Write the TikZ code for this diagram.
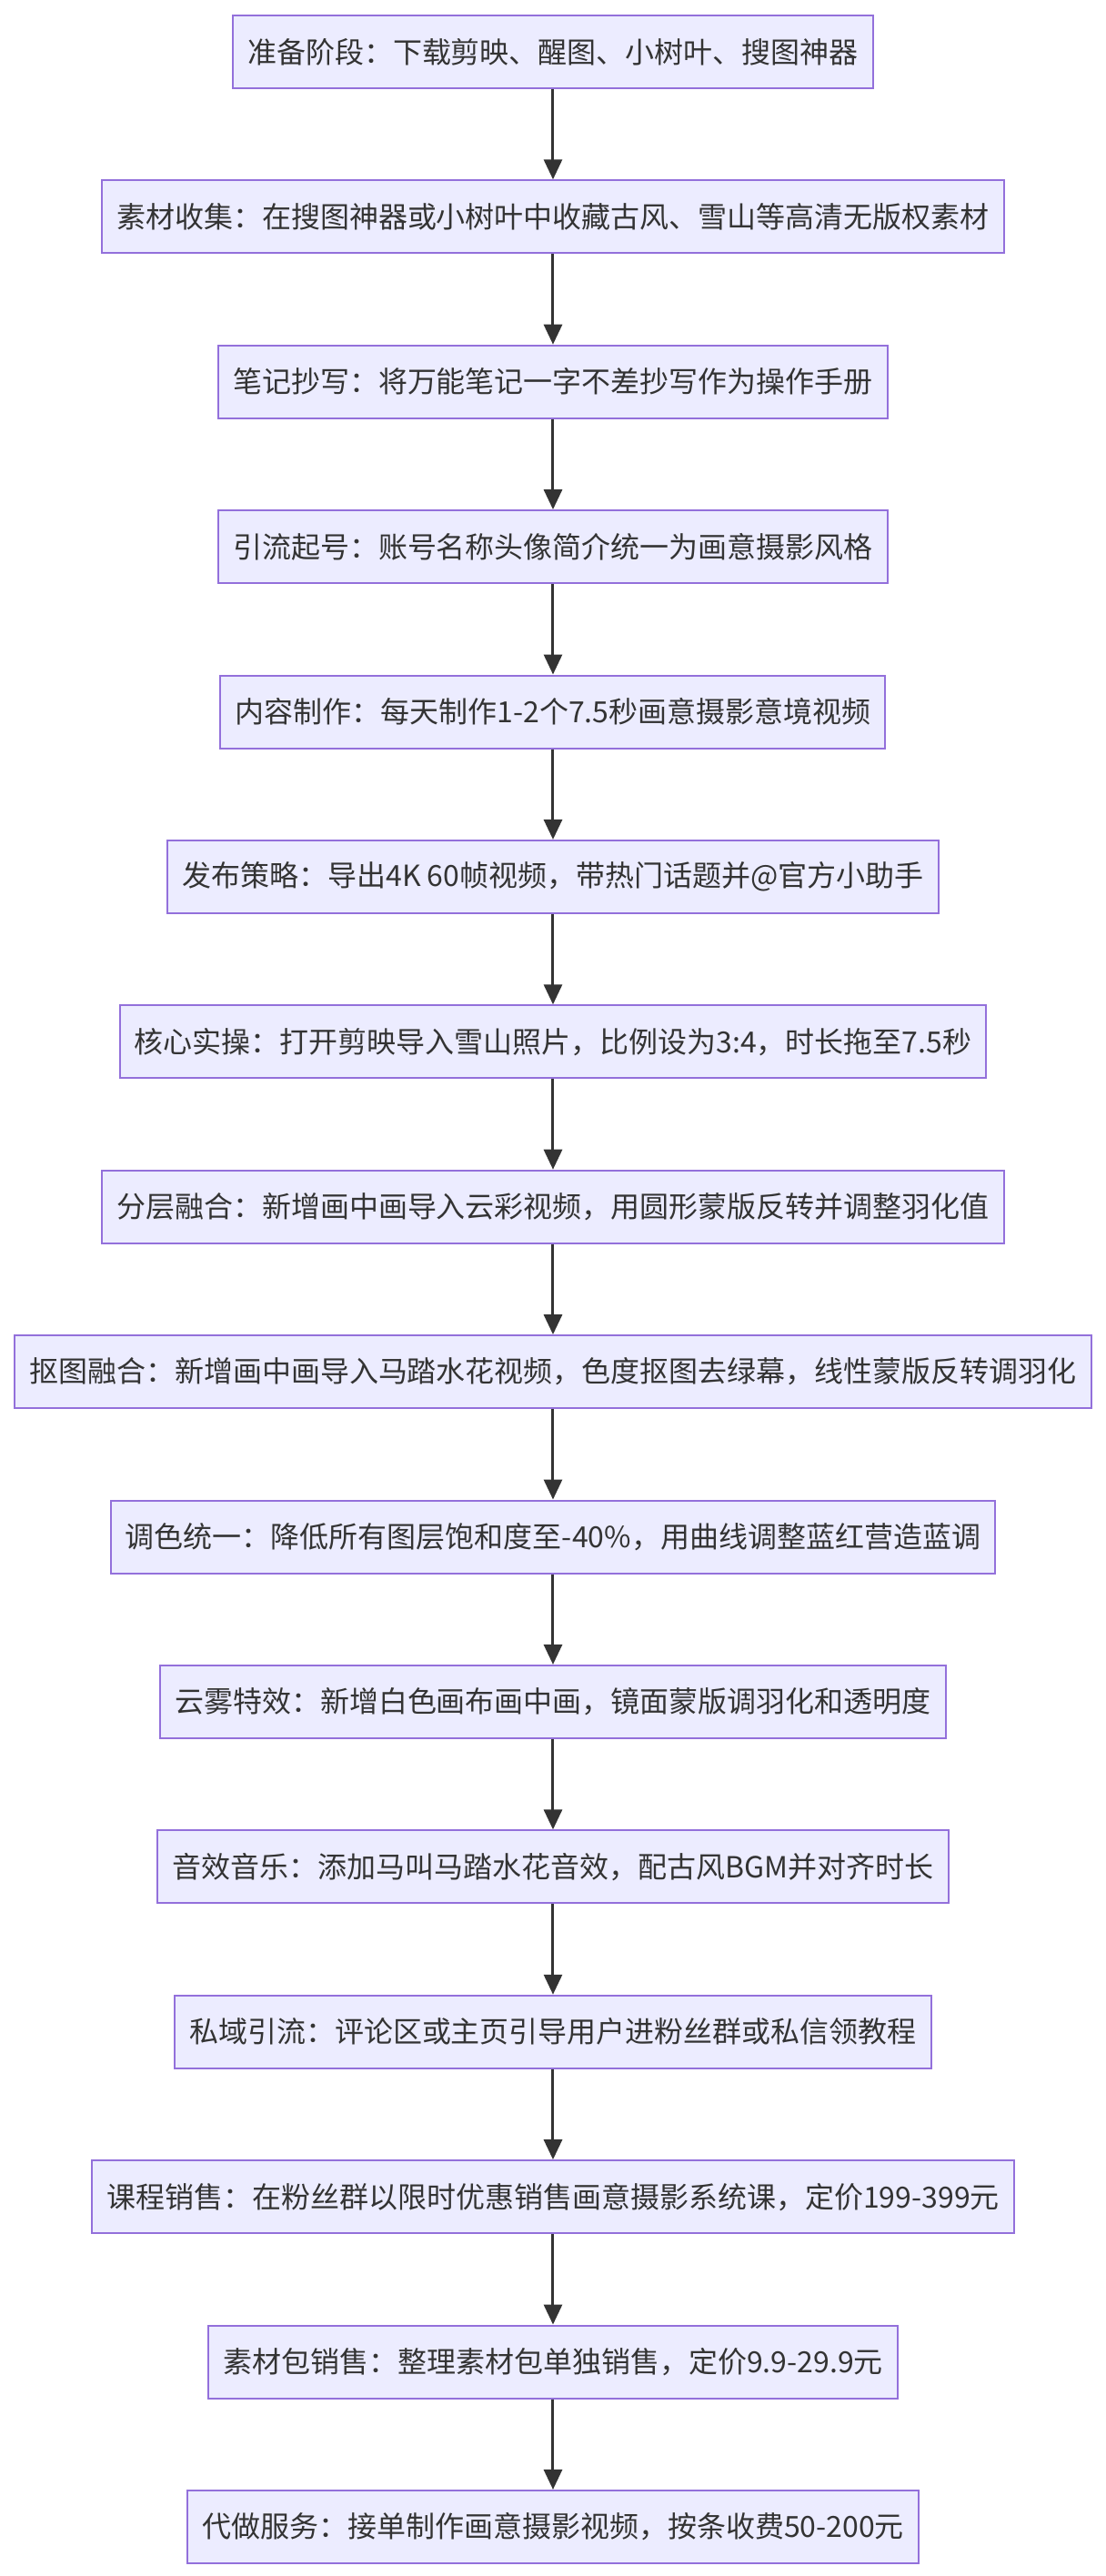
\documentclass[tikz,border=0pt]{standalone}
\usepackage{fontspec}
\setmainfont{Noto Sans CJK SC}
\usetikzlibrary{arrows.meta}
\definecolor{boxfill}{HTML}{ECECFF}
\definecolor{boxline}{HTML}{9370DB}
\definecolor{inkgray}{HTML}{333333}
\begin{document}
\begin{tikzpicture}[>={Triangle[length=11pt,width=10pt]},
  stage/.style={draw=boxline, fill=boxfill, line width=1pt, text=inkgray, font=\fontsize{16}{19}\selectfont, inner xsep=8pt, minimum height=40pt},
  flow/.style={->, draw=inkgray, line width=1.5pt}]
\useasboundingbox (-10.685,1.0) rectangle (10.685,-48.77);
\node[stage] (n1) at (0,0.0) {准备阶段：下载剪映、醒图、小树叶、搜图神器};
\node[stage] (n2) at (0,-3.188) {素材收集：在搜图神器或小树叶中收藏古风、雪山等高清无版权素材};
\node[stage] (n3) at (0,-6.376) {笔记抄写：将万能笔记一字不差抄写作为操作手册};
\node[stage] (n4) at (0,-9.564) {引流起号：账号名称头像简介统一为画意摄影风格};
\node[stage] (n5) at (0,-12.752) {内容制作：每天制作1-2个7.5秒画意摄影意境视频};
\node[stage] (n6) at (0,-15.94) {发布策略：导出4K 60帧视频，带热门话题并@官方小助手};
\node[stage] (n7) at (0,-19.128) {核心实操：打开剪映导入雪山照片，比例设为3:4，时长拖至7.5秒};
\node[stage] (n8) at (0,-22.316) {分层融合：新增画中画导入云彩视频，用圆形蒙版反转并调整羽化值};
\node[stage] (n9) at (0,-25.504) {抠图融合：新增画中画导入马踏水花视频，色度抠图去绿幕，线性蒙版反转调羽化};
\node[stage] (n10) at (0,-28.692) {调色统一：降低所有图层饱和度至-40\%，用曲线调整蓝红营造蓝调};
\node[stage] (n11) at (0,-31.88) {云雾特效：新增白色画布画中画，镜面蒙版调羽化和透明度};
\node[stage] (n12) at (0,-35.068) {音效音乐：添加马叫马踏水花音效，配古风BGM并对齐时长};
\node[stage] (n13) at (0,-38.256) {私域引流：评论区或主页引导用户进粉丝群或私信领教程};
\node[stage] (n14) at (0,-41.444) {课程销售：在粉丝群以限时优惠销售画意摄影系统课，定价199-399元};
\node[stage] (n15) at (0,-44.632) {素材包销售：整理素材包单独销售，定价9.9-29.9元};
\node[stage] (n16) at (0,-47.82) {代做服务：接单制作画意摄影视频，按条收费50-200元};
\draw[flow] (n1) -- (n2);
\draw[flow] (n2) -- (n3);
\draw[flow] (n3) -- (n4);
\draw[flow] (n4) -- (n5);
\draw[flow] (n5) -- (n6);
\draw[flow] (n6) -- (n7);
\draw[flow] (n7) -- (n8);
\draw[flow] (n8) -- (n9);
\draw[flow] (n9) -- (n10);
\draw[flow] (n10) -- (n11);
\draw[flow] (n11) -- (n12);
\draw[flow] (n12) -- (n13);
\draw[flow] (n13) -- (n14);
\draw[flow] (n14) -- (n15);
\draw[flow] (n15) -- (n16);
\end{tikzpicture}
\end{document}
